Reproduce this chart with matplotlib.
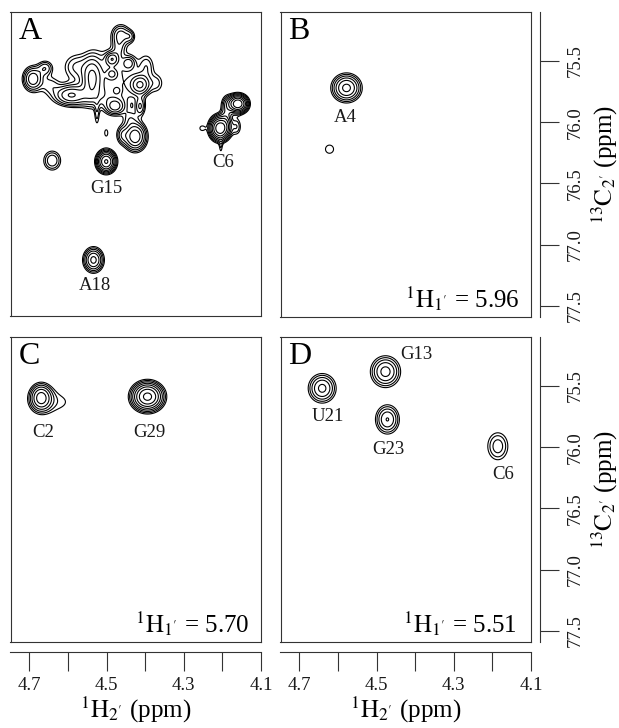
import numpy as np
import matplotlib
matplotlib.use('Agg')
import matplotlib.pyplot as plt

plt.rcParams['font.family'] = ['Liberation Serif', 'DejaVu Serif']
plt.rcParams['mathtext.fontset'] = 'stix'

W, H = 619, 728

# peak tables, one list per column: 1H ppm, 13C ppm, height, width 1H, width 13C
a_h = [4.4905, 4.559, 4.594, 4.691, 4.659, 4.646, 4.538, 4.486, 4.443, 4.486, 4.413, 4.370, 4.478, 4.473, 4.413,
	4.463, 4.439, 4.469, 4.426, 4.460, 4.439, 4.501, 4.641, 4.534,
	4.206, 4.253, 4.163, 4.204, 4.160, 4.189, 4.189, 4.501, 4.525, 4.581, 4.396]
a_c = [75.642, 75.792, 75.779, 75.648, 75.56, 75.697, 75.642, 75.486, 75.519, 75.607, 75.697, 75.683, 75.874, 75.743, 75.874,
	75.287, 75.30, 75.396, 76.12, 76.107, 75.97, 76.325, 76.317, 77.131,
	76.052, 76.052, 76.038, 76.202, 75.852, 75.874, 75.984, 76.093, 75.93, 75.546, 75.546]
a_amp = [2.2, 1.5, 4.0, 5.0, 2.5, 1.5, 4.5, 4.0, 2.5, 2.5, 5.0, 1.3, 4.0, 1.5, 2.5,
	3.0, 1.6, 1.4, 7.0, 2.0, 1.3, 11.0, 2.7, 6.0,
	14.0, 1.3, 1.8, 1.2, 14.0, 2.2, 1.5, 1.05, 1.3, 1.5, 1.4]
a_sh = [.060, .060, .024, .0155, .013, .017, .0155, .0105, .0105, .009, .0155, .013, .0155, .006, .0086,
	.0155, .0086, .0103, .0172, .0103, .013, .0138, .0155, .015,
	.0147, .0069, .0086, .0035, .0142, .0103, .0086, .0086, .0045, .0215, .013]
a_sc = [.164, .055, .050, .060, .041, .050, .104, .034, .034, .028, .050, .055, .041, .019, .050,
	.055, .033, .055, .068, .050, .050, .050, .055, .058,
	.055, .022, .050, .050, .041, .060, .050, .055, .082, .068, .068]

b_h = [4.578, 4.622]
b_c = [75.72, 76.22]
b_amp = [6.0, 1.2]
b_sh = [.0216, .0172]
b_sc = [.065, .055]

c_h = [4.670, 4.633, 4.394]
c_c = [75.596, 75.63, 75.587]
c_amp = [6.0, 1.2, 11.7]
c_sh = [.0169, .043, .0225]
c_sc = [.065, .082, .064]

d_h = [4.641, 4.477, 4.472, 4.186]
d_c = [75.519, 75.383, 75.773, 75.992]
d_amp = [4.25, 4.4, 3.9, 2.4]
d_sh = [.0213, .0228, .0188, .0196]
d_sc = [.071, .0755, .0724, .083]

a_labels = [('G15', 4.501, 76.544), ('C6', 4.197, 76.33), ('A18', 4.529, 77.34)]
b_labels = [('A4', 4.581, 75.96)]
c_labels = [('C2', 4.665, 75.88), ('G29', 4.39, 75.88)]
d_labels = [('G13', 4.396, 75.24), ('U21', 4.627, 75.75), ('G23', 4.469, 76.02), ('C6', 4.172, 76.22)]

x_ticks = [4.7, 4.6, 4.5, 4.4, 4.3, 4.2, 4.1]
x_labels = ['4.7', '', '4.5', '', '4.3', '', '4.1']
y_ticks = [75.5, 76.0, 76.5, 77.0, 77.5]
levels = [1.0, 1.4, 1.96, 2.74, 3.84, 5.38, 7.53, 10.5, 14.8, 20.7]

XLIM = (4.749, 4.1)
YLIM = (77.59, 75.10)
INK = '#1a1a1a'


def spectrum(hh, cc, h0, c0, amp, sh, sc):
	z = np.zeros_like(hh)
	for i in range(len(h0)):
		z += amp[i] * np.exp(-(hh - h0[i])**2 / (2 * sh[i]**2) - (cc - c0[i])**2 / (2 * sc[i]**2))
	return z


def panel(left, top, right, bottom, letter, peaks, labels, note=None, note_x=0.954, note_y=0.03):
	ax = fig.add_axes([left / W, 1 - bottom / H, (right - left) / W, (bottom - top) / H])
	h = np.linspace(XLIM[1], XLIM[0], 700)
	c = np.linspace(YLIM[1], YLIM[0], 700)
	hh, cc = np.meshgrid(h, c)
	ax.contour(hh, cc, spectrum(hh, cc, *peaks), levels=levels, colors='k', linewidths=0.8)
	ax.set_xlim(XLIM)
	ax.set_ylim(YLIM)
	ax.set_xticks([])
	ax.set_yticks([])
	for s in ax.spines.values():
		s.set_linewidth(0.8)
		s.set_color('#333333')
	ax.text(0.032, 0.911, letter, transform=ax.transAxes, fontsize=23, color='k', va='baseline', ha='left')
	for name, px, py in labels:
		ax.text(px, py, name, fontsize=13.5, color=INK, ha='center', va='center')
	if note is not None:
		ax.text(note_x, note_y, note, transform=ax.transAxes, fontsize=18, color='k', ha='right', va='baseline')
	return ax


def add_x_scale(ax):
	ax2 = ax.twiny()
	ax2.set_xlim(ax.get_xlim())
	ax2.xaxis.set_ticks_position('bottom')
	ax2.xaxis.set_label_position('bottom')
	for s in ax2.spines.values():
		s.set_visible(False)
	ax2.spines['bottom'].set_visible(True)
	ax2.spines['bottom'].set_position(('outward', 7.2))
	ax2.spines['bottom'].set_linewidth(0.8)
	ax2.spines['bottom'].set_color('#333333')
	ax2.set_xticks(x_ticks)
	ax2.set_xticklabels(x_labels, fontsize=13.5, color=INK)
	ax2.tick_params(axis='x', direction='out', length=13.7, width=0.8, pad=4.5, color='#333333')
	ax2.set_xlabel(r"$^{1}\mathrm{H}_{2'}$ (ppm)", fontsize=18, labelpad=0)


def add_y_scale(ax):
	ax2 = ax.twinx()
	ax2.set_ylim(ax.get_ylim())
	for s in ax2.spines.values():
		s.set_visible(False)
	ax2.spines['right'].set_visible(True)
	ax2.spines['right'].set_position(('outward', 6.5))
	ax2.spines['right'].set_linewidth(0.8)
	ax2.spines['right'].set_color('#333333')
	ax2.set_yticks(y_ticks)
	ax2.set_yticklabels(['%.1f' % v for v in y_ticks], fontsize=13.5, color=INK, rotation=90, va='center')
	ax2.tick_params(axis='y', direction='out', length=13.7, width=0.8, pad=5.5, color='#333333')
	ax2.set_ylabel(r"$^{13}\mathrm{C}_{2'}$ (ppm)", fontsize=18, labelpad=4.5)


fig = plt.figure(figsize=(W / 100, H / 100), dpi=100)

ax_a = panel(10.5, 12, 261, 316, 'A', (a_h, a_c, a_amp, a_sh, a_sc), a_labels)
ax_b = panel(280.5, 12, 531, 317, 'B', (b_h, b_c, b_amp, b_sh, b_sc), b_labels, r"$^{1}\mathrm{H}_{1'}$ = 5.96")
ax_c = panel(10.5, 337, 261, 642, 'C', (c_h, c_c, c_amp, c_sh, c_sc), c_labels, r"$^{1}\mathrm{H}_{1'}$ = 5.70")
ax_d = panel(280.5, 337, 531, 642, 'D', (d_h, d_c, d_amp, d_sh, d_sc), d_labels, r"$^{1}\mathrm{H}_{1'}$ = 5.51", note_x=0.943)

add_y_scale(ax_b)
add_y_scale(ax_d)
add_x_scale(ax_c)
add_x_scale(ax_d)

plt.savefig('out.png', dpi=100)
